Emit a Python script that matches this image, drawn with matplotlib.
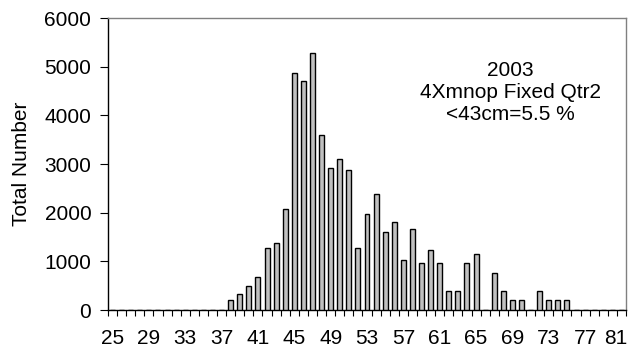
import matplotlib
matplotlib.use("Agg")
import matplotlib.pyplot as plt
import matplotlib.transforms as mtransforms
import numpy as np

plt.rcParams['font.family'] = ['Liberation Sans', 'DejaVu Sans']

lengths = list(range(25, 82))
counts = [0]*13 + [200, 330, 490, 670, 1270, 1380, 2070, 4860, 4700, 5290,
                   3590, 2920, 3100, 2870, 1280, 1970, 2380, 1600, 1810, 1030,
                   1670, 960, 1230, 960, 390, 390, 960, 1145, 0, 770, 390,
                   200, 200, 0, 390, 200, 200, 200] + [0]*6
tick_labels = [str(v) for v in range(25, 82, 4)]
y_ticks = [0, 1000, 2000, 3000, 4000, 5000, 6000]

FS = 15

fig = plt.figure(figsize=(6.31, 3.54), dpi=100)
ax = fig.add_axes([108/631, 1-310/354, (626-108)/631, (310-18)/354])

x = np.arange(len(lengths))
ax.bar(x, counts, width=0.55, color='#c0c0c0', edgecolor='black', linewidth=1.0, zorder=3)

ax.set_xlim(-0.5, len(lengths)-0.5)
ax.set_ylim(0, 6000)
ax.set_yticks(y_ticks)
ax.set_yticklabels([str(v) for v in y_ticks], fontsize=FS)

label_pos = [lengths.index(int(t)) for t in tick_labels]
ax.set_xticks(label_pos)
ax.set_xticklabels(tick_labels, fontsize=FS)
ax.tick_params(axis='x', which='major', length=0, pad=14)
ax.set_xticks(np.arange(-0.5, len(lengths), 1.0), minor=True)
ax.tick_params(axis='x', which='minor', length=4.5, direction='out', color='black', width=0.8)
ax.tick_params(axis='y', length=6, direction='out', color='black', width=0.8, pad=6)

# keep last label inside figure
last = ax.get_xticklabels()[-1]
last.set_transform(last.get_transform() + mtransforms.ScaledTranslation(-6/100, 0, fig.dpi_scale_trans))

ax.spines['left'].set_color('black')
ax.spines['bottom'].set_color('black')
ax.spines['top'].set_color('#808080')
ax.spines['right'].set_color('#808080')
for s in ax.spines.values():
    s.set_linewidth(1.0)

ax.set_ylabel('Total Number', fontsize=FS)
ax.yaxis.set_label_coords(-0.148, 0.5)

ax.text(510/631, 1-93/354, '2003\n4Xmnop Fixed Qtr2\n<43cm=5.5 %', transform=fig.transFigure,
        ha='center', va='center', fontsize=FS, linespacing=1.2)

fig.savefig('out.png', dpi=100)
